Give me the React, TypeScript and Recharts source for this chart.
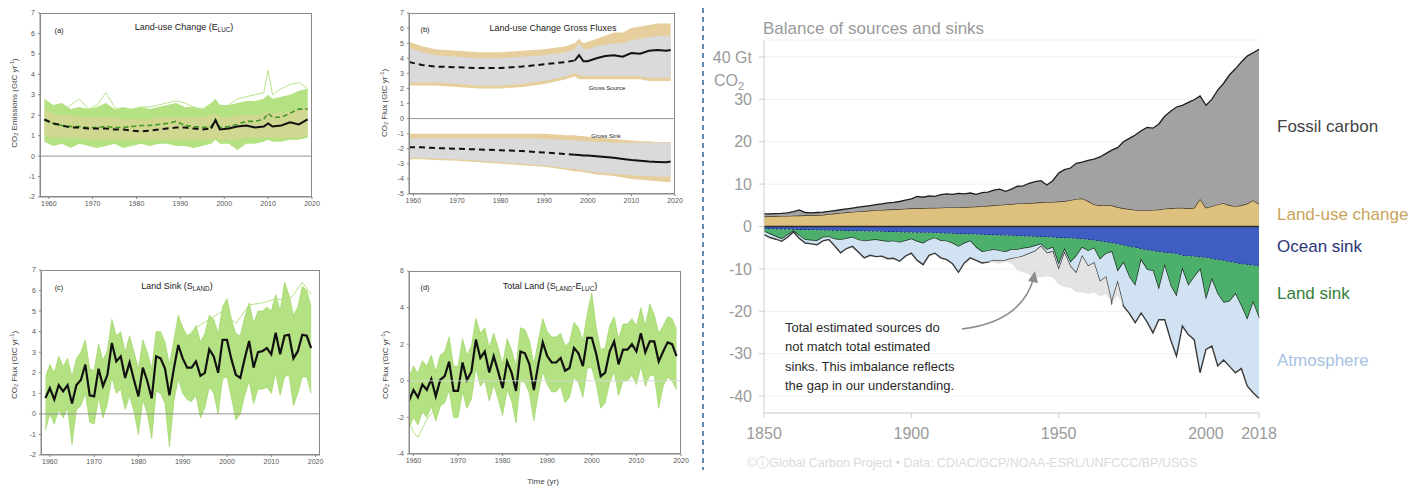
import React from 'react';
import { ComposedChart, Area, Line, XAxis, YAxis, CartesianGrid, ReferenceLine } from 'recharts';

// ---------- right: balance of sources and sinks (Gt CO2 per year), 2-year steps
const balanceYears = [
  1850, 1852, 1854, 1856, 1858, 1860, 1862, 1864, 1866, 1868,
  1870, 1872, 1874, 1876, 1878, 1880, 1882, 1884, 1886, 1888,
  1890, 1892, 1894, 1896, 1898, 1900, 1902, 1904, 1906, 1908,
  1910, 1912, 1914, 1916, 1918, 1920, 1922, 1924, 1926, 1928,
  1930, 1932, 1934, 1936, 1938, 1940, 1942, 1944, 1946, 1948,
  1950, 1952, 1954, 1956, 1958, 1960, 1962, 1964, 1966, 1968,
  1970, 1972, 1974, 1976, 1978, 1980, 1982, 1984, 1986, 1988,
  1990, 1992, 1994, 1996, 1998, 2000, 2002, 2004, 2006, 2008,
  2010, 2012, 2014, 2016, 2018,
];
const landUseChange = [
  2.35, 2.4, 2.45, 2.5, 2.5, 2.55, 2.6, 2.65, 2.7, 2.7,
  2.75, 2.9, 3.05, 3.2, 3.35, 3.45, 3.55, 3.65, 3.75, 3.85,
  3.9, 4.0, 4.05, 4.1, 4.2, 4.3, 4.3, 4.35, 4.4, 4.4,
  4.45, 4.5, 4.5, 4.55, 4.6, 4.65, 4.7, 4.8, 4.9, 5.0,
  5.1, 5.2, 5.3, 5.45, 5.5, 5.55, 5.6, 5.7, 5.75, 5.8,
  5.9, 6.0, 6.2, 6.5, 6.6, 6.0, 5.2, 5.0, 5.1, 5.0,
  4.6, 4.3, 4.1, 3.9, 3.8, 3.8, 3.9, 4.0, 4.2, 4.3,
  4.4, 4.4, 4.3, 4.4, 6.5, 4.4, 4.8, 5.2, 5.5, 5.0,
  4.8, 5.0, 5.4, 6.2, 5.3,
];
const fossilCarbon = [
  0.65, 0.6, 0.6, 0.6, 0.7, 0.95, 1.3, 0.65, 0.5, 0.6,
  0.65, 0.65, 0.7, 0.75, 0.8, 0.9, 1.0, 1.1, 1.2, 1.3,
  1.45, 1.55, 1.65, 1.8, 2.0, 2.2, 2.8, 2.55, 2.8, 2.7,
  3.05, 3.2, 3.1, 3.25, 3.1, 3.25, 2.9, 3.2, 3.2, 3.6,
  3.7, 3.1, 3.5, 4.05, 4.1, 4.65, 5.0, 5.1, 4.05, 5.0,
  6.7, 7.4, 7.6, 8.4, 8.6, 9.6, 10.7, 11.4, 12.1, 13.0,
  14.0, 15.7, 16.7, 17.7, 18.8, 19.6, 19.3, 20.2, 21.8, 22.9,
  23.8, 24.2, 25.0, 25.5, 24.3, 24.2, 25.2, 27.0, 28.3, 30.8,
  32.4, 33.8, 34.8, 34.8, 36.5,
];
const oceanSink = [
  -0.6, -0.6, -0.65, -0.7, -0.7, -0.75, -0.8, -0.8, -0.85, -0.9,
  -0.9, -0.95, -1.0, -1.0, -1.05, -1.1, -1.1, -1.15, -1.2, -1.2,
  -1.25, -1.3, -1.3, -1.35, -1.4, -1.4, -1.45, -1.5, -1.5, -1.55,
  -1.6, -1.65, -1.7, -1.75, -1.8, -1.85, -1.9, -1.95, -2.0, -2.05,
  -2.1, -2.15, -2.2, -2.25, -2.3, -2.35, -2.4, -2.45, -2.5, -2.6,
  -2.7, -2.75, -2.8, -2.9, -3.0, -3.1, -3.3, -3.5, -3.7, -3.9,
  -4.2, -4.5, -4.8, -5.0, -5.3, -5.6, -5.8, -6.0, -6.2, -6.3,
  -6.5, -6.9, -7.0, -7.1, -7.3, -7.4, -7.6, -7.9, -8.1, -8.4,
  -8.6, -8.9, -9.0, -9.2, -9.4,
];
const landSink = [
  -0.6, -1.2, -1.75, -2.3, -1.3, -0.35, -1.4, -2.4, -2.45, -2.5,
  -1.7, -1.55, -2.0, -2.2, -1.85, -1.5, -2.1, -2.35, -2.1, -2.0,
  -2.15, -2.3, -2.2, -2.45, -2.0, -1.6, -2.15, -2.5, -1.7, -1.25,
  -1.8, -1.85, -2.3, -3.05, -2.2, -1.65, -3.1, -4.05, -3.8, -3.45,
  -3.7, -3.85, -3.3, -3.25, -2.9, -2.65, -2.2, -1.75, -3.0, -2.4,
  -6.3, -2.75, -5.7, -4.1, -2.0, -2.7, -1.9, -4.3, -2.8, -2.1,
  -6.4, -4.1, -7.2, -9.0, -2.7, -4.6, -4.7, -8.9, -3.2, -7.7,
  -10.0, -3.3, -7.0, -4.9, -2.9, -9.9, -5.0, -8.1, -9.9, -9.3,
  -7.4, -9.9, -13.0, -8.8, -12.2,
];
const atmosphere = [
  -0.7, -0.8, -0.6, -0.5, -0.5, -0.2, -0.6, -0.7, -0.8, -0.9,
  -0.8, -0.6, -1.6, -3.0, -2.3, -2.1, -2.8, -3.9, -3.5, -3.9,
  -3.6, -4.0, -4.0, -4.4, -3.6, -3.3, -4.4, -5.0, -3.6, -3.5,
  -4.0, -4.3, -4.8, -6.0, -4.6, -3.9, -3.0, -2.6, -2.6, -2.5,
  -2.4, -2.0, -2.1, -1.9, -1.8, -1.4, -1.3, -0.5, -0.8, -1.0,
  -1.2, -0.8, -1.0, -4.0, -2.1, -3.6, -3.4, -5.2, -5.5, -12.0,
  -2.7, -10.2, -8.5, -8.7, -12.4, -12.3, -14.6, -7.1, -12.6, -12.7,
  -14.1, -13.3, -11.5, -14.7, -24.3, -11.7, -15.6, -16.9, -13.5, -15.3,
  -18.5, -14.7, -15.6, -21.2, -18.9,
];
const budgetImbalance = [
  0, 0, 0, 0, 0, 0, 0, 0, 0, 0,
  0, 0, 0, 0, 0, 0, 0, 0, 0, 0,
  0, 0, 0, 0, 0, 0, 0, 0, 0, 0,
  0, 0, 0, 0, 0, 0, 0, 0, 0, -0.6,
  -0.6, -0.3, -1.2, -3.0, -3.8, -5.0, -6.0, -7.3, -5.5, -6.0,
  -3.5, -8.0, -5.0, -4.5, -8.5, -6.5, -7.0, -3.5, -4.0, 0,
  -3.0, 0, 0, 0, 0, 0, 0, 0, 0, 0,
  0, 0, 0, 0, 0, 0, 0, 0, 0, 0,
  0, 0, 0, 0, 0,
];
const balanceXTicks = [1850, 1900, 1950, 2000, 2018];
const balanceYTicks = [-40, -30, -20, -10, 0, 10, 20, 30, 40];

// ---------- (a) land-use change emissions, GtC/yr
const aYears = [
  1959, 1961, 1963, 1965, 1967, 1969, 1971, 1973, 1975, 1977,
  1979, 1981, 1983, 1985, 1987, 1989, 1991, 1993, 1995, 1997,
  1998, 1999, 2001, 2003, 2005, 2007, 2009, 2010, 2011, 2013,
  2015, 2017, 2019,
];
const aModelsLo = [0.7, 0.5, 0.6, 0.4, 0.6, 0.5, 0.4, 0.5, 0.6, 0.4, 0.5, 0.6, 0.5, 0.6, 0.6, 0.5, 0.5, 0.4, 0.5, 0.6, 0.8, 0.6, 0.6, 0.3, 0.6, 0.6, 0.7, 0.8, 0.7, 0.7, 0.8, 0.8, 0.9];
const aModelsHi = [2.8, 2.5, 2.6, 2.3, 2.4, 2.3, 2.4, 2.6, 2.3, 2.4, 2.3, 2.4, 2.3, 2.4, 2.5, 2.6, 2.4, 2.4, 2.3, 2.6, 2.8, 2.5, 2.5, 2.6, 2.7, 2.7, 2.8, 3.0, 2.8, 2.9, 3.0, 3.2, 3.3];
const aBookLo = [1.0, 0.9, 0.9, 0.9, 0.9, 0.8, 0.8, 0.8, 0.8, 0.8, 0.8, 0.8, 0.8, 0.8, 0.8, 0.8, 0.8, 0.8, 0.8, 0.8, 0.9, 0.8, 0.8, 0.8, 0.9, 0.9, 0.9, 0.9, 0.9, 0.9, 0.9, 0.9, 1.0];
const aBookHi = [2.3, 2.1, 2.0, 2.0, 1.9, 1.9, 1.9, 1.9, 1.9, 1.8, 1.8, 1.8, 1.8, 1.9, 1.9, 1.9, 1.9, 1.9, 1.9, 2.0, 2.1, 1.9, 1.9, 2.0, 2.0, 2.0, 2.1, 2.2, 2.1, 2.1, 2.2, 2.3, 2.4];
const aHighModel = [2.7, 2.3, 2.2, 2.5, 2.8, 2.3, 2.5, 3.1, 2.4, 2.2, 2.3, 2.4, 2.4, 2.5, 2.6, 2.7, 2.6, 2.4, 2.3, 2.4, 2.5, 2.4, 2.5, 2.8, 2.9, 3.0, 3.1, 4.2, 3.0, 3.3, 3.5, 3.6, 3.3];
const aModelMean = [1.75, 1.6, 1.5, 1.45, 1.45, 1.4, 1.4, 1.45, 1.4, 1.4, 1.45, 1.5, 1.5, 1.55, 1.6, 1.7, 1.5, 1.45, 1.4, 1.45, 1.8, 1.4, 1.45, 1.55, 1.7, 1.7, 1.8, 2.1, 1.9, 1.9, 2.1, 2.3, 2.3];
const aMean = [1.8, 1.6, 1.5, 1.4, 1.4, 1.35, 1.35, 1.35, 1.3, 1.3, 1.25, 1.2, 1.25, 1.3, 1.35, 1.4, 1.4, 1.35, 1.3, 1.35, 1.75, 1.3, 1.35, 1.45, 1.5, 1.4, 1.45, 1.6, 1.45, 1.5, 1.65, 1.55, 1.8];

// ---------- (b) land-use change gross fluxes
const bYears = [1959, 1962, 1965, 1970, 1975, 1980, 1985, 1990, 1995, 1997, 1998, 1999, 2000, 2002, 2004, 2006, 2008, 2010, 2012, 2014, 2016, 2018, 2019];
const srcOuterLo = [2.2, 2.2, 2.2, 2.1, 2.0, 2.0, 2.1, 2.3, 2.6, 2.8, 2.6, 2.6, 2.6, 2.6, 2.6, 2.6, 2.6, 2.6, 2.6, 2.5, 2.5, 2.5, 2.5];
const srcOuterHi = [5.1, 4.8, 4.6, 4.5, 4.4, 4.4, 4.5, 4.6, 4.8, 5.0, 5.3, 5.0, 5.1, 5.3, 5.5, 5.7, 5.7, 6.0, 6.1, 6.2, 6.3, 6.3, 6.3];
const srcInnerLo = [2.4, 2.4, 2.4, 2.3, 2.2, 2.2, 2.3, 2.5, 2.8, 3.0, 2.9, 2.8, 2.8, 2.8, 2.8, 2.8, 2.8, 2.8, 2.8, 2.7, 2.7, 2.7, 2.7];
const srcInnerHi = [4.7, 4.4, 4.2, 4.1, 4.0, 4.0, 4.1, 4.2, 4.4, 4.6, 5.0, 4.6, 4.6, 4.8, 4.9, 5.0, 5.0, 5.2, 5.3, 5.4, 5.5, 5.5, 5.5];
const srcMean = [3.75, 3.55, 3.45, 3.4, 3.35, 3.35, 3.45, 3.6, 3.75, 3.85, 4.2, 3.8, 3.8, 4.0, 4.15, 4.2, 4.1, 4.35, 4.3, 4.5, 4.55, 4.5, 4.55];
const sinkOuterLo = [-2.7, -2.7, -2.75, -2.8, -2.9, -3.0, -3.1, -3.2, -3.4, -3.5, -3.5, -3.55, -3.6, -3.7, -3.75, -3.8, -3.9, -4.0, -4.05, -4.1, -4.15, -4.2, -4.2];
const sinkOuterHi = [-1.0, -1.0, -1.0, -1.0, -1.0, -1.0, -1.0, -1.0, -1.1, -1.1, -1.15, -1.15, -1.2, -1.25, -1.3, -1.35, -1.4, -1.45, -1.5, -1.5, -1.55, -1.55, -1.55];
const sinkInnerLo = [-2.6, -2.6, -2.65, -2.7, -2.8, -2.9, -3.0, -3.1, -3.3, -3.35, -3.4, -3.45, -3.5, -3.55, -3.6, -3.65, -3.7, -3.75, -3.8, -3.8, -3.85, -3.85, -3.85];
const sinkInnerHi = [-1.3, -1.3, -1.3, -1.3, -1.3, -1.3, -1.3, -1.35, -1.4, -1.45, -1.45, -1.5, -1.5, -1.55, -1.55, -1.6, -1.6, -1.6, -1.6, -1.6, -1.6, -1.6, -1.6];
const sinkMean = [-1.9, -1.9, -1.95, -2.0, -2.05, -2.1, -2.15, -2.25, -2.35, -2.4, -2.42, -2.44, -2.45, -2.5, -2.55, -2.6, -2.68, -2.75, -2.8, -2.85, -2.88, -2.9, -2.85];

// ---------- (c) land sink and (d) total land, annual
const annualYears = [
  1959, 1960, 1961, 1962, 1963, 1964, 1965, 1966, 1967, 1968,
  1969, 1970, 1971, 1972, 1973, 1974, 1975, 1976, 1977, 1978,
  1979, 1980, 1981, 1982, 1983, 1984, 1985, 1986, 1987, 1988,
  1989, 1990, 1991, 1992, 1993, 1994, 1995, 1996, 1997, 1998,
  1999, 2000, 2001, 2002, 2003, 2004, 2005, 2006, 2007, 2008,
  2009, 2010, 2011, 2012, 2013, 2014, 2015, 2016, 2017, 2018,
  2019,
];
const cMean = [
  0.77, 1.25, 0.7, 1.4, 1.1, 1.4, 0.5, 1.4, 1.65, 2.4,
  0.9, 0.85, 2.2, 1.35, 1.9, 3.45, 2.55, 2.8, 1.75, 2.5,
  1.65, 0.85, 2.25, 1.6, 0.75, 2.8, 2.7, 2.2, 0.9, 2.2,
  3.35, 2.7, 2.25, 2.25, 2.55, 1.85, 2.0, 3.15, 2.8, 2.0,
  3.6, 3.6, 2.65, 1.9, 1.75, 2.7, 3.55, 2.25, 3.0, 3.05,
  3.2, 2.9, 3.95, 2.9, 3.8, 3.85, 2.7, 3.05, 3.85, 3.8,
  3.2,
];
const cModelsLo = [
  -0.8, 0.0, -0.5, 0.2, -0.2, 0.3, -1.5, 0.2, 0.4, 1.0,
  -0.4, -0.5, 0.8, -0.2, 0.5, 1.8, 1.0, 1.2, 0.2, 0.9,
  0.1, -1.0, 0.7, 0.0, -1.2, 1.1, 1.0, 0.5, -1.6, 0.6,
  1.7, 1.0, 0.7, 0.6, 0.9, -0.2, 0.3, 1.3, 1.0, 0.0,
  1.7, 1.8, 0.8, -0.3, 0.0, 0.9, 1.6, 0.5, 1.2, 1.2,
  1.3, 1.0, 2.0, 0.9, 1.8, 1.9, 0.4, 1.0, 1.8, 1.8,
  1.0,
];
const cModelsHi = [
  1.8, 2.4, 2.0, 2.8, 2.3, 2.7, 1.8, 2.7, 3.0, 3.6,
  2.2, 2.1, 3.4, 2.6, 3.1, 4.6, 3.8, 4.0, 3.0, 3.8,
  3.0, 2.2, 3.6, 3.0, 2.2, 4.0, 4.0, 3.5, 2.4, 3.6,
  4.8, 4.2, 3.8, 3.9, 4.3, 3.5, 3.9, 4.8, 4.6, 3.9,
  5.2, 5.6, 4.6, 3.9, 3.8, 4.7, 5.4, 4.4, 5.0, 5.0,
  5.2, 5.0, 5.8, 5.0, 6.4, 5.8, 4.8, 5.2, 6.2, 6.0,
  5.2,
];
const cHighYears = [1990, 1993, 1996, 1999, 2002, 2005, 2008, 2011, 2014, 2017, 2019];
const cHighModel = [3.6, 4.2, 4.6, 5.0, 4.4, 5.3, 5.4, 5.6, 5.5, 6.4, 5.8];

const dMean = [
  -1.1, -0.5, -0.9, -0.2, -0.5, 0.1, -0.85, 0.05, 0.25, 1.05,
  -0.55, -0.55, 1.0, 0.05, 0.5, 2.25, 1.25, 1.6, 0.45, 1.35,
  0.5, -0.4, 1.05, 0.45, -0.55, 1.6, 1.5, 0.9, -0.5, 0.9,
  2.1, 1.35, 1.0, 1.0, 1.25, 0.55, 0.7, 1.8, 1.5, 0.8,
  2.35, 2.35, 1.45, 0.25, 0.45, 1.6, 2.15, 0.9, 1.7, 1.7,
  2.0, 1.6, 2.6, 1.55, 2.15, 2.15, 1.05, 1.6, 2.1, 2.0,
  1.35,
];
const dModelsLo = [
  -2.6, -2.0, -2.4, -1.7, -2.0, -1.4, -2.2, -1.4, -1.2, -0.5,
  -2.0, -2.0, -0.6, -1.5, -1.0, 0.7, -0.3, 0.0, -1.1, -0.2,
  -1.0, -1.9, -0.5, -1.1, -2.3, 0.0, -0.1, -0.7, -2.2, -0.7,
  0.5, -0.2, -0.6, -0.6, -0.3, -1.2, -0.9, 0.2, -0.1, -0.9,
  0.7, 0.7, -0.2, -1.5, -1.2, -0.1, 0.5, -0.8, 0.0, 0.0,
  0.3, -0.2, 0.8, -0.3, 0.3, 0.3, -1.5, -0.3, 0.2, 0.0,
  -0.5,
];
const dModelsHi = [
  0.2, 0.8, 0.4, 1.1, 0.8, 1.4, 0.5, 1.4, 1.6, 2.4,
  0.8, 0.8, 2.3, 1.4, 1.9, 3.4, 2.6, 2.9, 1.8, 2.6,
  1.8, 0.9, 2.3, 1.7, 0.8, 2.9, 2.8, 2.2, 0.9, 2.2,
  3.4, 2.7, 2.4, 2.4, 2.6, 1.9, 2.1, 3.2, 2.9, 2.2,
  3.7, 4.8, 2.9, 1.7, 1.8, 3.0, 3.5, 2.3, 3.1, 3.1,
  3.4, 3.0, 4.0, 3.0, 4.2, 3.6, 2.6, 3.0, 3.5, 3.4,
  2.8,
];
const dLowYears = [1959, 1960, 1961, 1962, 1963, 1964, 1966, 1968];
const dLowModel = [-2.3, -2.8, -3.1, -2.6, -2.1, -1.8, -1.2, -0.6];

const panelXTicks = [1960, 1970, 1980, 1990, 2000, 2010, 2020];
const bookkeepingFrom = 1997;

// ---------- helpers building the tables
type Row = Record<string, any>;
const pair = (lo: number[], hi: number[]) => lo.map((v, i) => [v, hi[i]]);
function table(years: number[], cols: Record<string, any[]>): Row[] {
  return years.map((year, i) => {
    const row: Row = { year };
    for (const k of Object.keys(cols)) row[k] = cols[k][i];
    return row;
  });
}
function splitMean(rows: Row[], key: string, vals: number[]) {
  rows.forEach((r, i) => {
    r[key + 'Dash'] = r.year <= bookkeepingFrom ? vals[i] : null;
    r[key + 'Solid'] = r.year >= bookkeepingFrom ? vals[i] : null;
  });
  return rows;
}
function addSparse(rows: Row[], key: string, years: number[], vals: number[]) {
  years.forEach((y, i) => {
    const r = rows.find((row) => row.year === y);
    if (r) r[key] = vals[i];
  });
  return rows;
}

const balanceRows = balanceYears.map((year, i) => ({
  year,
  luc: landUseChange[i],
  fossil: fossilCarbon[i],
  ocean: oceanSink[i],
  land: landSink[i],
  atm: atmosphere[i],
  gap: budgetImbalance[i],
}));

const aRows = splitMean(
  table(aYears, { models: pair(aModelsLo, aModelsHi), book: pair(aBookLo, aBookHi), high: aHighModel, modelMean: aModelMean }),
  'mean',
  aMean,
);
const bRows = splitMean(
  splitMean(
    table(bYears, {
      srcOuter: pair(srcOuterLo, srcOuterHi),
      srcInner: pair(srcInnerLo, srcInnerHi),
      sinkOuter: pair(sinkOuterLo, sinkOuterHi),
      sinkInner: pair(sinkInnerLo, sinkInnerHi),
    }),
    'src',
    srcMean,
  ),
  'sink',
  sinkMean,
);
const cRows = addSparse(table(annualYears, { models: pair(cModelsLo, cModelsHi), mean: cMean }), 'high', cHighYears, cHighModel);
const dRows = addSparse(table(annualYears, { models: pair(dModelsLo, dModelsHi), mean: dMean }), 'low', dLowYears, dLowModel);

// ---------- small components
const GREEN = '#acde74';
const TAN = '#e6cf9c';

function Txt({ x, y, size, color = '#222', children, align = 'center', style }: any) {
  const tx = align === 'center' ? '-50%' : '0';
  return (
    <div
      style={{
        position: 'absolute', left: x, top: y, fontSize: size, color, lineHeight: 1,
        whiteSpace: 'nowrap', transform: `translate(${tx}, -50%)`, ...style,
      }}
    >
      {children}
    </div>
  );
}
function VTxt({ x, y, size, children }: any) {
  return (
    <div
      style={{
        position: 'absolute', left: x, top: y, fontSize: size, color: '#444', lineHeight: 1,
        whiteSpace: 'nowrap', transform: 'translate(-50%, -50%) rotate(-90deg)',
      }}
    >
      {children}
    </div>
  );
}

function Panel({ rows, box, xDomain, yDomain, yTicks, zero = '#8a8a8a', children }: any) {
  const [x0, y0, x1, y1] = box;
  const left = x0 - 28;
  const top = y0 - 4;
  const width = x1 - left + 14;
  const height = y1 - top + 16;
  return (
    <>
      <div style={{ position: 'absolute', left, top }}>
        <ComposedChart width={width} height={height} data={rows} margin={{ top: 4, right: 14, bottom: 2, left: 8 }}>
          <XAxis
            dataKey="year" type="number" domain={xDomain} ticks={panelXTicks} interval={0} allowDataOverflow
            height={14} tickSize={2} tickMargin={2} stroke="#888" tick={{ fontSize: 7, fill: '#555' }}
          />
          <YAxis
            type="number" domain={yDomain} ticks={yTicks} interval={0} allowDataOverflow
            width={20} tickSize={2} tickMargin={3} stroke="#888" tick={{ fontSize: 7, fill: '#555' }}
          />
          {children}
          <ReferenceLine y={0} stroke={zero} strokeWidth={0.9} />
        </ComposedChart>
      </div>
      <div
        style={{
          position: 'absolute', left: x0, top: y0, width: x1 - x0, height: y1 - y0,
          border: '1px solid #8a8a8a', boxSizing: 'border-box',
        }}
      />
    </>
  );
}

const renderBalanceTick = (props: any) => {
  const { x, y, payload } = props;
  const common = { fontSize: 16, fill: '#9a9a9a', textAnchor: 'end' as const };
  if (payload.value === 40) {
    return (
      <g>
        <text x={x} y={y} dy="0.36em" {...common}>40 Gt</text>
        <text x={x - 8} y={y + 23} dy="0.36em" {...common}>
          CO<tspan fontSize={11} dy={4}>2</tspan>
        </text>
      </g>
    );
  }
  return <text x={x} y={y} dy="0.36em" {...common}>{payload.value}</text>;
};

export default function App() {
  const sub = { fontSize: '70%', verticalAlign: '-0.25em' };
  const sup = { fontSize: '70%', verticalAlign: '0.45em' };
  return (
    <div
      style={{
        position: 'absolute', left: 0, top: 0, width: 1425, height: 490, background: '#fff',
        overflow: 'hidden', fontFamily: '"Liberation Sans", Arial, sans-serif',
      }}
    >
      {/* (a) */}
      <Panel rows={aRows} box={[40, 13, 312, 197]} xDomain={[1958, 2020]} yDomain={[-2, 7]} yTicks={[-2, -1, 0, 1, 2, 3, 4, 5, 6, 7]}>
        <Area dataKey="models" type="linear" stroke="none" fill={GREEN} fillOpacity={0.9} isAnimationActive={false} activeDot={false} />
        <Area dataKey="book" type="linear" stroke="none" fill={TAN} fillOpacity={0.55} isAnimationActive={false} activeDot={false} />
        <Line dataKey="high" type="linear" stroke="#b9e48a" strokeWidth={1} dot={false} isAnimationActive={false} />
        <Line dataKey="modelMean" type="linear" stroke="#3e9a22" strokeWidth={1.6} strokeDasharray="5 3" dot={false} isAnimationActive={false} />
        <Line dataKey="meanDash" type="linear" stroke="#111" strokeWidth={2} strokeDasharray="6 4" dot={false} isAnimationActive={false} />
        <Line dataKey="meanSolid" type="linear" stroke="#111" strokeWidth={2} dot={false} isAnimationActive={false} />
      </Panel>
      <VTxt x={15} y={103} size={8}>CO<span style={sub}>2</span> Emissions (GtC yr<span style={sup}>-1</span>)</VTxt>
      <Txt x={59} y={31} size={7.5}>(a)</Txt>
      <Txt x={184} y={28} size={9}>Land-use Change (E<span style={sub}>LUC</span>)</Txt>

      {/* (b) */}
      <Panel rows={bRows} box={[409, 13, 675, 194]} xDomain={[1959, 2020]} yDomain={[-5, 7]} yTicks={[-5, -4, -3, -2, -1, 0, 1, 2, 3, 4, 5, 6, 7]}>
        <Area dataKey="srcOuter" type="linear" stroke="none" fill={TAN} fillOpacity={1} isAnimationActive={false} activeDot={false} />
        <Area dataKey="srcInner" type="linear" stroke="none" fill="#dadada" fillOpacity={1} isAnimationActive={false} activeDot={false} />
        <Area dataKey="sinkOuter" type="linear" stroke="none" fill={TAN} fillOpacity={1} isAnimationActive={false} activeDot={false} />
        <Area dataKey="sinkInner" type="linear" stroke="none" fill="#dadada" fillOpacity={1} isAnimationActive={false} activeDot={false} />
        <Line dataKey="srcDash" type="linear" stroke="#111" strokeWidth={2} strokeDasharray="6 4" dot={false} isAnimationActive={false} />
        <Line dataKey="srcSolid" type="linear" stroke="#111" strokeWidth={2} dot={false} isAnimationActive={false} />
        <Line dataKey="sinkDash" type="linear" stroke="#111" strokeWidth={2} strokeDasharray="6 4" dot={false} isAnimationActive={false} />
        <Line dataKey="sinkSolid" type="linear" stroke="#111" strokeWidth={2} dot={false} isAnimationActive={false} />
      </Panel>
      <VTxt x={385} y={103} size={8}>CO<span style={sub}>2</span> Flux (GtC yr<span style={sup}>-1</span>)</VTxt>
      <Txt x={425} y={30} size={7.5}>(b)</Txt>
      <Txt x={553} y={28} size={9}>Land-use Change Gross Fluxes</Txt>
      <Txt x={607} y={88} size={6}>Gross Source</Txt>
      <Txt x={606} y={136} size={6}>Gross Sink</Txt>

      {/* (c) */}
      <Panel rows={cRows} box={[41, 270, 320, 455]} xDomain={[1958, 2021]} yDomain={[-2, 7]} yTicks={[-2, -1, 0, 1, 2, 3, 4, 5, 6, 7]}>
        <Area dataKey="models" type="linear" stroke="#93d258" strokeWidth={0.6} fill={GREEN} fillOpacity={0.9} isAnimationActive={false} activeDot={false} />
        <Line dataKey="high" type="linear" stroke="#b5e286" strokeWidth={1} dot={false} connectNulls isAnimationActive={false} />
        <Line dataKey="mean" type="linear" stroke="#111" strokeWidth={2.2} dot={false} isAnimationActive={false} />
      </Panel>
      <VTxt x={15} y={365} size={8}>CO<span style={sub}>2</span> Flux (GtC yr<span style={sup}>-1</span>)</VTxt>
      <Txt x={59} y={288} size={7.5}>(c)</Txt>
      <Txt x={177} y={287} size={9}>Land Sink (S<span style={sub}>LAND</span>)</Txt>

      {/* (d) */}
      <Panel rows={dRows} box={[409, 271, 681, 454]} xDomain={[1959, 2020]} yDomain={[-4, 6]} yTicks={[-4, -2, 0, 2, 4, 6]} zero="#d8d8d8">
        <Area dataKey="models" type="linear" stroke="#93d258" strokeWidth={0.6} fill={GREEN} fillOpacity={0.9} isAnimationActive={false} activeDot={false} />
        <Line dataKey="low" type="linear" stroke="#b5e286" strokeWidth={1} dot={false} connectNulls isAnimationActive={false} />
        <Line dataKey="mean" type="linear" stroke="#111" strokeWidth={2.2} dot={false} isAnimationActive={false} />
      </Panel>
      <VTxt x={386} y={365} size={8}>CO<span style={sub}>2</span> Flux (GtC yr<span style={sup}>-1</span>)</VTxt>
      <Txt x={425} y={288} size={7.5}>(d)</Txt>
      <Txt x={550} y={287} size={9}>Total Land (S<span style={sub}>LAND</span>-E<span style={sub}>LUC</span>)</Txt>
      <Txt x={543} y={482} size={8} color="#444">Time (yr)</Txt>

      {/* separator */}
      <svg width={1425} height={490} style={{ position: 'absolute', left: 0, top: 0, pointerEvents: 'none' }}>
        <line x1={703} y1={8} x2={703} y2={470} stroke="#3e6c98" strokeWidth={1.6} strokeDasharray="5 4" />
      </svg>

      {/* right: balance chart */}
      <Txt x={763} y={28} size={17} color="#9a9a9a" align="left">Balance of sources and sinks</Txt>
      <div style={{ position: 'absolute', left: 708, top: 0 }}>
        <ComposedChart width={717} height={490} data={balanceRows} margin={{ top: 40, right: 166, bottom: 47, left: 0 }}>
          <CartesianGrid vertical={false} stroke="#efefef" />
          <XAxis
            dataKey="year" type="number" domain={[1850, 2018]} ticks={balanceXTicks} interval={0}
            height={30} tickSize={5} tickMargin={10} stroke="#cfcfcf" tick={{ fontSize: 16, fill: '#9a9a9a' }}
          />
          <YAxis
            type="number" domain={[-44, 44]} ticks={balanceYTicks} interval={0}
            width={56} tickSize={5} tickMargin={7} stroke="#cfcfcf" tick={renderBalanceTick}
          />
          <Area dataKey="luc" stackId="src" type="linear" fill="#dfc17f" fillOpacity={1} stroke="#3a3320" strokeWidth={1.3} isAnimationActive={false} activeDot={false} />
          <Area dataKey="fossil" stackId="src" type="linear" fill="#a2a2a2" fillOpacity={1} stroke="#1e1e1e" strokeWidth={1.3} isAnimationActive={false} activeDot={false} />
          <Area dataKey="ocean" stackId="snk" type="linear" fill="#3e5fc1" fillOpacity={1} stroke="#17214f" strokeWidth={1.3} strokeDasharray="2 2" isAnimationActive={false} activeDot={false} />
          <Area dataKey="land" stackId="snk" type="linear" fill="#4caf6b" fillOpacity={1} stroke="#1b2a1c" strokeWidth={1.4} isAnimationActive={false} activeDot={false} />
          <Area dataKey="atm" stackId="snk" type="linear" fill="#d1e2f3" fillOpacity={1} stroke="#3a3a3a" strokeWidth={1.4} isAnimationActive={false} activeDot={false} />
          <Area dataKey="gap" stackId="snk" type="linear" fill="#e3e3e3" fillOpacity={1} stroke="none" isAnimationActive={false} activeDot={false} />
          <ReferenceLine y={0} stroke="#2b2b2b" strokeWidth={1.6} />
        </ComposedChart>
      </div>

      <Txt x={1277} y={126} size={17} color="#444" align="left">Fossil carbon</Txt>
      <Txt x={1277} y={214} size={17} color="#c9a35a" align="left">Land-use change</Txt>
      <Txt x={1277} y={246} size={17} color="#2b3477" align="left">Ocean sink</Txt>
      <Txt x={1277} y={293} size={17} color="#34803a" align="left">Land sink</Txt>
      <Txt x={1277} y={360} size={17} color="#a7c3e3" align="left">Atmosphere</Txt>

      <div style={{ position: 'absolute', left: 785, top: 318, fontSize: 13, lineHeight: '19.3px', color: '#2a2a2a' }}>
        Total estimated sources do<br />
        not match total estimated<br />
        sinks. This imbalance reflects<br />
        the gap in our understanding.
      </div>
      <svg width={1425} height={490} style={{ position: 'absolute', left: 0, top: 0, pointerEvents: 'none' }}>
        <path d="M 962 329 Q 1022 322 1034 277" fill="none" stroke="#8c8c8c" strokeWidth={1.5} />
        <path d="M 1028 281 L 1035 271 L 1038 283 Z" fill="#8c8c8c" />
      </svg>

      <Txt x={747} y={463} size={12.5} color="#dadada" align="left">©ⓘGlobal Carbon Project  •  Data: CDIAC/GCP/NOAA-ESRL/UNFCCC/BP/USGS</Txt>
    </div>
  );
}
